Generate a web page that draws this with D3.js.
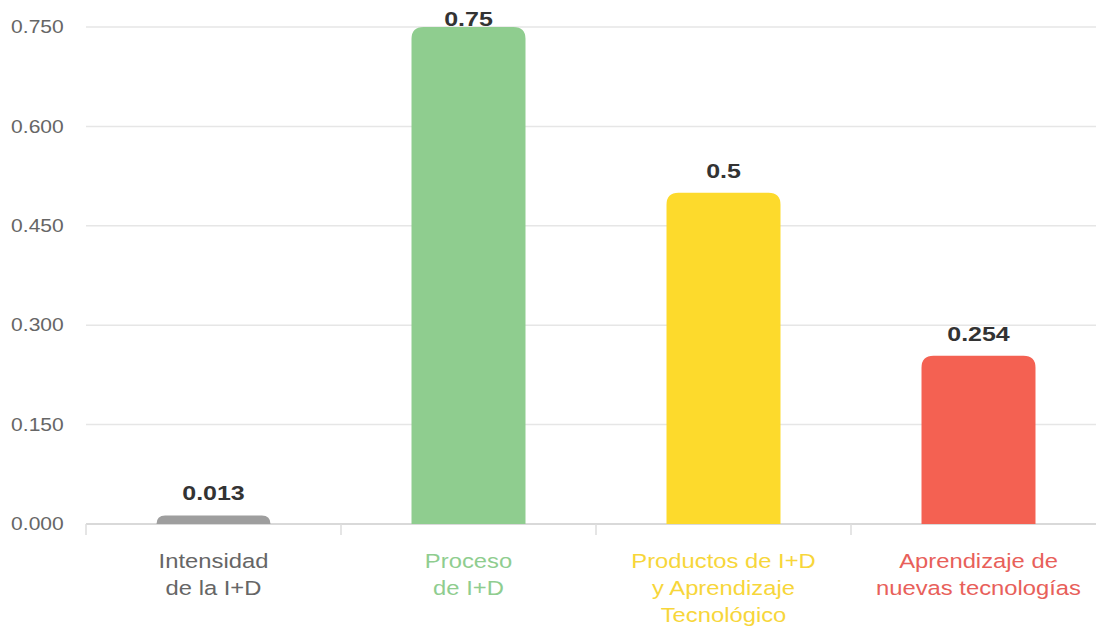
<!DOCTYPE html>
<html>
<head>
<meta charset="utf-8">
<script src="https://cdn.jsdelivr.net/npm/d3@7"></script>
<style>
  html, body { margin: 0; padding: 0; background: #fff; }
  svg { display: block; font-family: "Liberation Sans", Arial, sans-serif; }
</style>
</head>
<body>
<svg id="chart" width="1096" height="628"></svg>
<script>
const categories = [
  ["Intensidad", "de la I+D"],
  ["Proceso", "de I+D"],
  ["Productos de I+D", "y Aprendizaje", "Tecnológico"],
  ["Aprendizaje de", "nuevas tecnologías"]
];
const values = [0.013, 0.75, 0.5, 0.254];
const valueLabels = ["0.013", "0.75", "0.5", "0.254"];
const barColors = ["#9e9e9e", "#8fcd8f", "#fdda2c", "#f46152"];
const labelColors = ["#666666", "#8fcd8f", "#f7d63a", "#e8605a"];
const yTicks = [0, 0.15, 0.30, 0.45, 0.60, 0.75];

const svg = d3.select("#chart");
const mLeft = 86, mRight = 1106, mTop = 27, mBottom = 524;

const keys = categories.map((c, i) => "c" + i);
const x = d3.scaleBand().domain(keys).range([mLeft, mRight]).padding(0);
const y = d3.scaleLinear().domain([0, 0.75]).range([mBottom, mTop]);

// gridlines
svg.append("g")
  .selectAll("line")
  .data(yTicks.slice(1))
  .join("line")
  .attr("x1", mLeft).attr("x2", 1096)
  .attr("y1", d => y(d)).attr("y2", d => y(d))
  .attr("stroke", "#e6e6e6").attr("stroke-width", 1.5);

// y axis
const yAxis = svg.append("g")
  .attr("transform", `translate(${mLeft},0)`)
  .call(d3.axisLeft(y).tickValues(yTicks).tickFormat(d3.format(".3f")).tickSize(0).tickPadding(19));
yAxis.select(".domain").remove();
yAxis.selectAll("text")
  .attr("font-size", 18)
  .attr("fill", "#666")
  .attr("font-family", "Liberation Sans, Arial, sans-serif")
  .attr("transform", "scale(1.17,1)");

// x baseline & boundary ticks
svg.append("line")
  .attr("x1", mLeft).attr("x2", 1096)
  .attr("y1", mBottom).attr("y2", mBottom)
  .attr("stroke", "#cccccc").attr("stroke-width", 1.5);
svg.append("g").selectAll("line")
  .data(keys)
  .join("line")
  .attr("x1", d => x(d)).attr("x2", d => x(d))
  .attr("y1", mBottom).attr("y2", mBottom + 11)
  .attr("stroke", "#dddddd").attr("stroke-width", 1.5);

// bars with rounded top corners
const barW = x.bandwidth() * 0.447;
function barPath(d, i) {
  const cx = x(keys[i]) + x.bandwidth() / 2;
  const x0 = cx - barW / 2, x1 = cx + barW / 2;
  const yt = y(d), yb = y(0);
  const r = Math.min(12, (yb - yt), barW / 2);
  const p = d3.path();
  p.moveTo(x0, yb);
  p.lineTo(x0, yt + r);
  p.quadraticCurveTo(x0, yt, x0 + r, yt);
  p.lineTo(x1 - r, yt);
  p.quadraticCurveTo(x1, yt, x1, yt + r);
  p.lineTo(x1, yb);
  p.closePath();
  return p.toString();
}
svg.append("g").selectAll("path")
  .data(values)
  .join("path")
  .attr("d", (d, i) => barPath(d, i))
  .attr("fill", (d, i) => barColors[i]);

// value labels
svg.append("g").selectAll("text")
  .data(values)
  .join("text")
  .attr("transform", (d, i) => {
    const cx = x(keys[i]) + x.bandwidth() / 2;
    const ty = Math.max(y(d) - 15, mTop - 1);
    return `translate(${cx},${ty}) scale(1.25,1)`;
  })
  .attr("text-anchor", "middle")
  .attr("font-size", 20)
  .attr("font-weight", "bold")
  .attr("fill", "#333")
  .text((d, i) => valueLabels[i]);

// category labels
const cat = svg.append("g").selectAll("text")
  .data(categories)
  .join("text")
  .attr("transform", (d, i) => `translate(${x(keys[i]) + x.bandwidth() / 2},568) scale(1.22,1)`)
  .attr("text-anchor", "middle")
  .attr("font-size", 19.5)
  .attr("fill", (d, i) => labelColors[i]);
cat.selectAll("tspan")
  .data(d => d)
  .join("tspan")
  .attr("x", 0)
  .attr("dy", (d, j) => j === 0 ? 0 : 27)
  .text(d => d);
</script>
</body>
</html>
